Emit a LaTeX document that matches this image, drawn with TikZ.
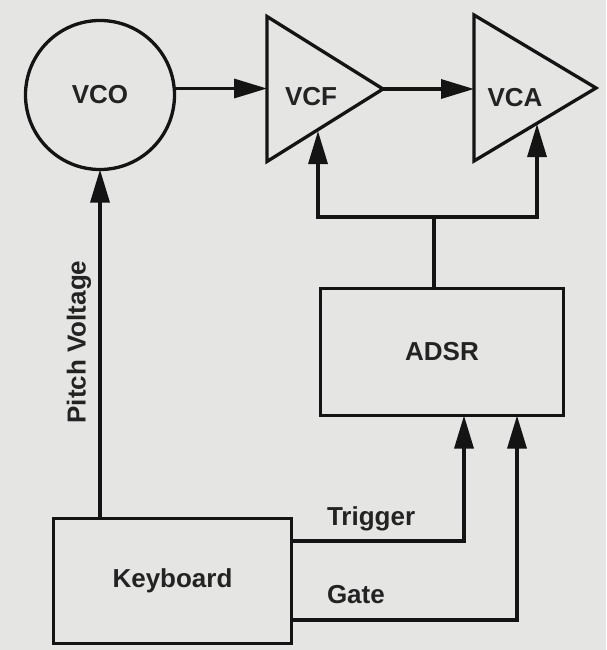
\documentclass[tikz,border=0pt]{standalone}
\usepackage{fontspec}
\setmainfont{Liberation Sans}
\usetikzlibrary{arrows.meta,shapes.geometric}

\begin{document}
\begin{tikzpicture}[x=1pt,y=-1pt,
  ink/.style={draw={rgb,255:red,20;green,20;blue,20},line width=3.3pt},
  arr/.style={ink,-{Triangle[length=33pt,width=19pt]}},
  txt/.style={inner sep=0pt,outer sep=0pt,text={rgb,255:red,35;green,35;blue,35},font=\bfseries\fontsize{26}{31}\selectfont},
  blk/.style={ink,rectangle,txt},
  amp/.style={ink,isosceles triangle,isosceles triangle stretches,inner sep=0pt,outer sep=0pt,anchor=apex}]
\path[use as bounding box,fill={rgb,255:red,229;green,229;blue,227}] (0,0) rectangle (606,650);
\node[ink,circle,minimum size=149pt,inner sep=0pt,outer sep=0pt,txt] (vco) at (100,95) {VCO};
\node[amp,minimum height=116pt,minimum width=145pt] (vcf) at (383,89) {};
\node[txt] (vcflbl) at (311,97) {VCF};
\node[amp,minimum height=122pt,minimum width=146pt] (vca) at (596,88) {};
\node[txt] (vcalbl) at (515,98) {VCA};
\node[blk,minimum width=243pt,minimum height=127pt] (adsr) at (442,352) {ADSR};
\node[blk,minimum width=238pt,minimum height=125pt] (keyboard) at (172.5,581) {Keyboard};
\coordinate (bus) at (434,217);
\coordinate (vcfin) at (318,131);
\coordinate (vcain) at (537,124);
\coordinate (trig) at (464,541);
\coordinate (gate) at (517,620);
\draw[arr] (vco.5) -- (vco.5 -| vcf.lower side);
\draw[arr] (vcf.apex) -- (vcf.apex -| vca.lower side);
\draw[ink] (bus |- adsr.north) -- (bus);
\draw[arr] (bus) -| (vcfin);
\draw[arr] (bus) -| (vcain);
\draw[arr] (keyboard.north -| vco.south) -- (vco.south);
\draw[arr] (keyboard.east |- trig) -| (trig |- adsr.south);
\draw[arr] (keyboard.east |- gate) -| (gate |- adsr.south);
\node[txt,rotate=90] (pitch) at (79,342) {Pitch Voltage};
\node[txt,anchor=base west] (triglbl) at (327,525) {Trigger};
\node[txt,anchor=base west] (gatelbl) at (327,603) {Gate};
\end{tikzpicture}
\end{document}
